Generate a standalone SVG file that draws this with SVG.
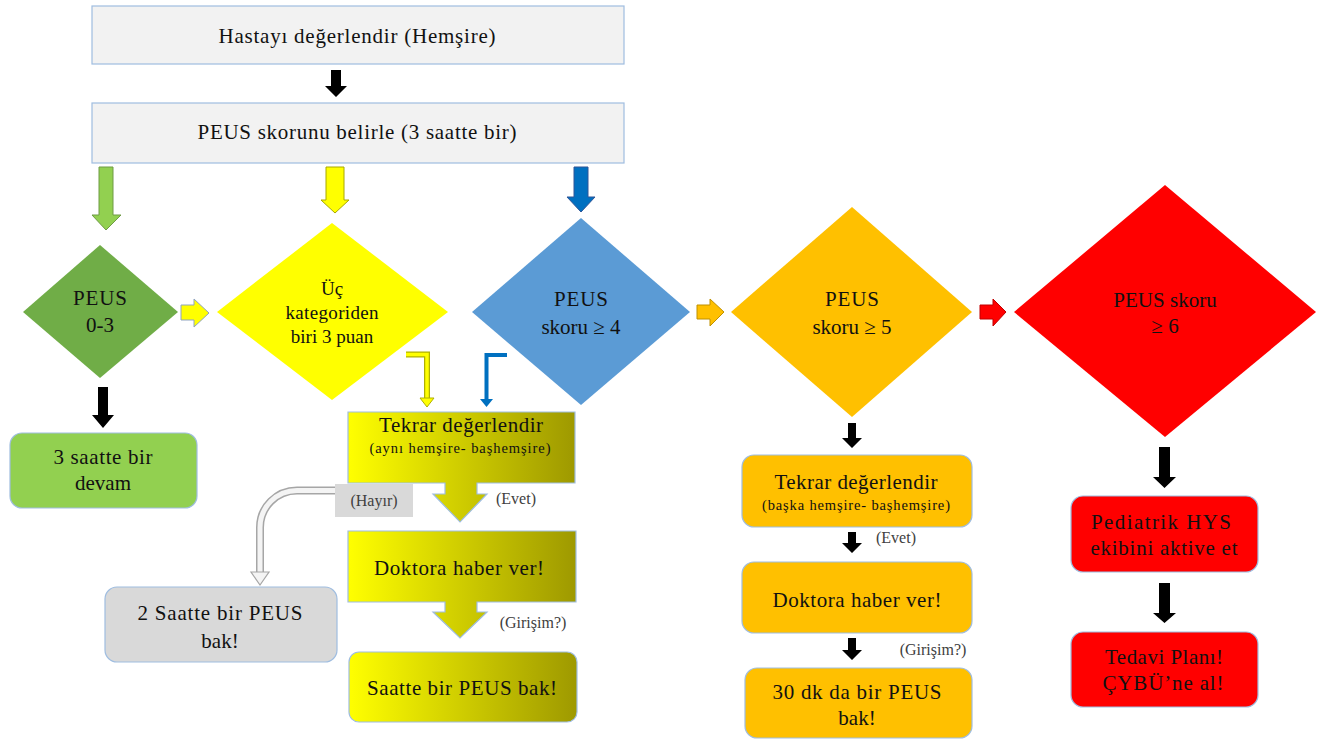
<svg xmlns="http://www.w3.org/2000/svg" width="1325" height="740" viewBox="0 0 1325 740" font-family="Liberation Serif, Times New Roman, serif">
<defs>
<linearGradient id="olive" gradientUnits="objectBoundingBox" x1="0" y1="0" x2="1" y2="0">
<stop offset="0" stop-color="#ffff00"/>
<stop offset="1" stop-color="#9e9900"/>
</linearGradient>
<style>
text{fill:#111;text-anchor:middle}
.t21{font-size:21px}
.t19{font-size:19px}
.t13{font-size:14.5px}
.lbl{font-size:16px;fill:#404040}
.box{stroke:#9fbde0;stroke-width:1.2}
.blk{fill:#000}
</style>
</defs>
<rect width="1325" height="740" fill="#fff"/>

<g id="connectors">
<polygon class="blk" points="331,70 341,70 341,86 347,86 336,97 325,86 331,86"/>
<polygon points="99,167 113,167 113,215 121,215 106,230 92,215 99,215" fill="#92d050" stroke="#6f9b45" stroke-width="1"/>
<polygon points="326,167 344,167 344,200 349,200 335,213 321,200 326,200" fill="#ffff00" stroke="#a8a800" stroke-width="1"/>
<polygon points="574,167 588,167 588,197 595,197 581,212 567,197 574,197" fill="#0070c0" stroke="#2f5597" stroke-width="1"/>
<polygon points="181,305 194,305 194,299 209,313 194,327 194,320 181,320" fill="#ffff00" stroke="#8fa3c0" stroke-width="1"/>
<polygon points="697,305 710,305 710,299 724,312 710,326 710,319 697,319" fill="#ffc000" stroke="#bf9000" stroke-width="1"/>
<polygon points="980,305 993,305 993,299 1006,312 993,326 993,319 980,319" fill="#ff0000" stroke="#c00000" stroke-width="1"/>
<polygon class="blk" points="98,387 108,387 108,415 114,415 103,428 92,415 98,415"/>
<path d="M406,354.5 H427 V399" fill="none" stroke="#b0b000" stroke-width="6"/>
<path d="M406,354.5 H427 V400" fill="none" stroke="#ffff00" stroke-width="3.5"/>
<polygon points="420,398 434,398 427,407" fill="#ffff00" stroke="#b0b000" stroke-width="1"/>
<path d="M507,355 H486.5 V400" fill="none" stroke="#0070c0" stroke-width="4"/>
<polygon points="480,399 493,399 486.5,407" fill="#0070c0"/>
<path d="M336,490.5 H297 A37,37 0 0 0 260,527.5 V573" fill="none" stroke="#a6a6a6" stroke-width="8"/>
<path d="M337,490.5 H297 A37,37 0 0 0 260,527.5 V574" fill="none" stroke="#f4f4f4" stroke-width="5"/>
<polygon points="251,572 269,572 260,585" fill="#f4f4f4" stroke="#a6a6a6" stroke-width="1.2"/>
<polygon class="blk" points="848,423 856,423 856,438 862,438 852,448 842,438 848,438"/>
<polygon class="blk" points="848,532 856,532 856,543 862,543 852,553 842,543 848,543"/>
<polygon class="blk" points="848,638 856,638 856,650 862,650 852,660 842,650 848,650"/>
<polygon class="blk" points="1159,447 1170,447 1170,477 1176,477 1164.5,488 1153,477 1159,477"/>
<polygon class="blk" points="1159,583 1170,583 1170,613 1176,613 1164.5,623 1153,613 1159,613"/>
</g>

<g id="n-hasta">
<rect class="box" x="92" y="6" width="532" height="58" fill="#f2f2f2"/>
<text class="t21" x="357" y="43" textLength="277" lengthAdjust="spacing">Hastayı değerlendir (Hemşire)</text>
</g>
<g id="n-peus">
<rect class="box" x="92" y="103" width="532" height="60" fill="#f2f2f2"/>
<text class="t21" x="357" y="139" textLength="319" lengthAdjust="spacing">PEUS skorunu belirle (3 saatte bir)</text>
</g>

<g id="d-green">
<polygon points="23,312 100,245 178,312 100,378" fill="#70ad47"/>
<text class="t21" x="100" y="305" textLength="54" lengthAdjust="spacing">PEUS</text>
<text class="t21" x="100" y="332">0-3</text>
</g>
<g id="d-yellow">
<polygon points="217,312 332,223 448,312 332,400" fill="#ffff00"/>
<text class="t19" x="332" y="295">Üç</text>
<text class="t19" x="332" y="319" textLength="93" lengthAdjust="spacing">kategoriden</text>
<text class="t19" x="332" y="343">biri 3 puan</text>
</g>
<g id="d-blue">
<polygon points="472,312 581,218 690,312 581,405" fill="#5b9bd5"/>
<text class="t21" x="581" y="306" textLength="54" lengthAdjust="spacing">PEUS</text>
<text class="t21" x="581" y="334">skoru ≥ 4</text>
</g>
<g id="d-orange">
<polygon points="731,312 852,207 972,312 852,417" fill="#ffc000"/>
<text class="t21" x="852" y="306" textLength="54" lengthAdjust="spacing">PEUS</text>
<text class="t21" x="852" y="334">skoru ≥ 5</text>
</g>
<g id="d-red">
<polygon points="1014,312 1165,185 1316,312 1165,437" fill="#ff0000"/>
<text class="t21" x="1165" y="307">PEUS skoru</text>
<text class="t21" x="1165" y="333">≥ 6</text>
</g>

<g id="n-3saat">
<rect class="box" x="10" y="433" width="187" height="75" rx="12" fill="#92d050"/>
<text class="t21" x="103" y="464" textLength="99" lengthAdjust="spacing">3 saatte bir</text>
<text class="t21" x="103" y="490">devam</text>
</g>

<g id="n-tekrar-y">
<path class="box" d="M348,412 H575 V483 H477 V494 H487 L460,522 L433,494 H445 V483 H348 Z" fill="url(#olive)"/>
<text class="t21" x="461" y="432" textLength="164" lengthAdjust="spacing">Tekrar değerlendir</text>
<text class="t13" x="460" y="453" textLength="181" lengthAdjust="spacing">(aynı hemşire-  başhemşire)</text>
</g>
<g id="n-hayir">
<rect x="335" y="484" width="78" height="33" fill="#d9d9d9"/>
<text class="lbl" x="374" y="506">(Hayır)</text>
</g>
<text class="lbl" x="516" y="504">(Evet)</text>

<g id="n-doktora-y">
<path class="box" d="M348,531 H576 V602 H477 V612 H487 L460,638 L433,612 H445 V602 H348 Z" fill="url(#olive)"/>
<text class="t21" x="459" y="575" textLength="170" lengthAdjust="spacing">Doktora haber ver!</text>
</g>
<text class="lbl" x="533" y="628">(Girişim?)</text>

<g id="n-saatte">
<rect class="box" x="349" y="652" width="228" height="70" rx="10" fill="url(#olive)"/>
<text class="t21" x="462" y="695" textLength="190" lengthAdjust="spacing">Saatte bir PEUS bak!</text>
</g>

<g id="n-2saat">
<rect class="box" x="105" y="587" width="232" height="75" rx="12" fill="#d9d9d9"/>
<text class="t21" x="220" y="620" textLength="165" lengthAdjust="spacing" fill="#222">2 Saatte bir PEUS</text>
<text class="t21" x="220" y="648">bak!</text>
</g>

<g id="n-tekrar-o">
<rect class="box" x="742" y="455" width="230" height="72" rx="12" fill="#ffc000"/>
<text class="t21" x="856" y="489" textLength="163" lengthAdjust="spacing">Tekrar değerlendir</text>
<text class="t13" x="856" y="510" textLength="188" lengthAdjust="spacing">(başka hemşire-  başhemşire)</text>
</g>
<text class="lbl" x="896" y="543">(Evet)</text>
<g id="n-doktora-o">
<rect class="box" x="742" y="562" width="230" height="71" rx="12" fill="#ffc000"/>
<text class="t21" x="857" y="607" textLength="169" lengthAdjust="spacing">Doktora haber ver!</text>
</g>
<text class="lbl" x="933" y="655">(Girişim?)</text>
<g id="n-30dk">
<rect class="box" x="745" y="668" width="227" height="70" rx="12" fill="#ffc000"/>
<text class="t21" x="857" y="699" textLength="169" lengthAdjust="spacing">30 dk da bir PEUS</text>
<text class="t21" x="857" y="725">bak!</text>
</g>

<g id="n-hys">
<rect class="box" x="1071" y="496" width="187" height="76" rx="12" fill="#ff0000"/>
<text class="t21" x="1161" y="529" textLength="140" lengthAdjust="spacing">Pediatrik HYS</text>
<text class="t21" x="1164" y="555" textLength="147" lengthAdjust="spacing">ekibini aktive et</text>
</g>
<g id="n-tedavi">
<rect class="box" x="1071" y="632" width="187" height="75" rx="12" fill="#ff0000"/>
<text class="t21" x="1164" y="664" textLength="118" lengthAdjust="spacing">Tedavi Planı!</text>
<text class="t21" x="1163" y="690" textLength="121" lengthAdjust="spacing">ÇYBÜ’ne al!</text>
</g>
</svg>
